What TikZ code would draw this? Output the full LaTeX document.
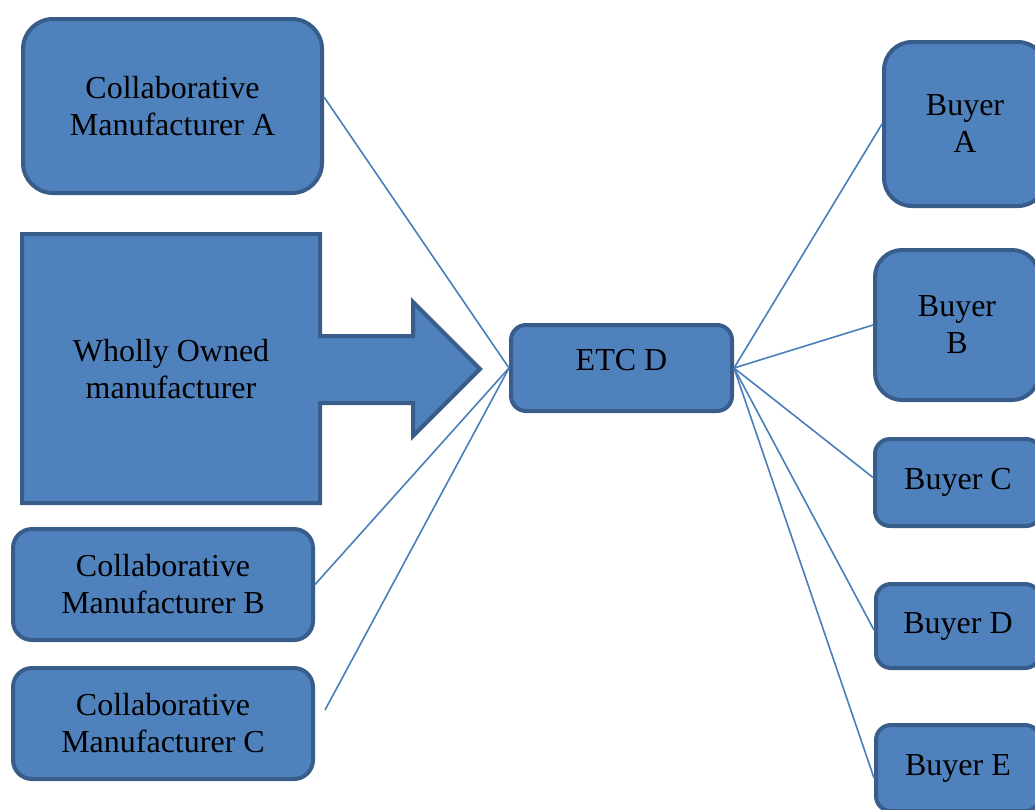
\documentclass[tikz,border=0pt]{standalone}
\usepackage{fontspec}
\setmainfont{Liberation Serif}
\usetikzlibrary{calc}
\definecolor{boxfill}{HTML}{4F81BD}
\definecolor{boxline}{HTML}{385D8A}
\definecolor{linkline}{HTML}{4A7EBB}
\begin{document}
\begin{tikzpicture}[x=1pt,y=-1pt,
  box/.style={draw=boxline, fill=boxfill, line width=4pt, align=center,
    inner sep=0pt, font=\fontsize{32}{37}\selectfont, text=black},
  link/.style={draw=linkline, line width=1.6pt}]
\useasboundingbox (0,0) rectangle (1035,809);
\clip (0,0) rectangle (1035,809);

% suppliers on the left
\node[box, rounded corners=30pt, minimum width=299pt, minimum height=174pt]
  (ca) at (172.5,106) {Collaborative\\Manufacturer A};
\node[box, rounded corners=19pt, minimum width=300pt, minimum height=111pt]
  (cb) at (163,584.5) {Collaborative\\Manufacturer B};
\node[box, rounded corners=19pt, minimum width=300pt, minimum height=111pt]
  (cc) at (163,723.5) {Collaborative\\Manufacturer C};

% wholly owned block with its arrow
\path[draw=boxline, fill=boxfill, line width=4pt]
  (22,234) -- (320,234) -- (320,336) -- (413,336) -- (413,302) -- (480,369)
  -- (413,436) -- (413,403) -- (320,403) -- (320,503) -- (22,503) -- cycle;
\node[font=\fontsize{32}{37}\selectfont, align=center, inner sep=0pt]
  (wo) at (171,369) {Wholly Owned\\manufacturer};

% trading company in the middle
\node[box, rounded corners=15pt, minimum width=221pt, minimum height=86pt,
  text depth=16pt]
  (etc) at (621.5,368) {ETC D};

% buyers on the right
\node[box, rounded corners=28pt, minimum width=162pt, minimum height=164pt]
  (ba) at (965,124) {Buyer\\A};
\node[box, rounded corners=27pt, minimum width=164pt, minimum height=150pt]
  (bb) at (957,325) {Buyer\\B};
\node[box, rounded corners=15pt, minimum width=166pt, minimum height=87pt]
  (bc) at (958,482.5) {Buyer C};
\node[box, rounded corners=15pt, minimum width=164pt, minimum height=84pt]
  (bd) at (958,626) {Buyer D};
\node[box, rounded corners=15pt, minimum width=164pt, minimum height=86pt]
  (be) at (958,768) {Buyer E};

% links
\coordinate (ccend) at (325,710);
\draw[link] ($(ca.east)+(0,-9)$) -- (etc.west);
\draw[link] (cb.east) -- (etc.west);
\draw[link] (ccend) -- (etc.west);
\draw[link] (etc.east) -- (ba.west);
\draw[link] (etc.east) -- (bb.west);
\draw[link] (etc.east) -- ($(bc.west)+(0,-5)$);
\draw[link] (etc.east) -- ($(bd.west)+(0,4)$);
\draw[link] (etc.east) -- ($(be.west)+(0,10)$);
\end{tikzpicture}
\end{document}
